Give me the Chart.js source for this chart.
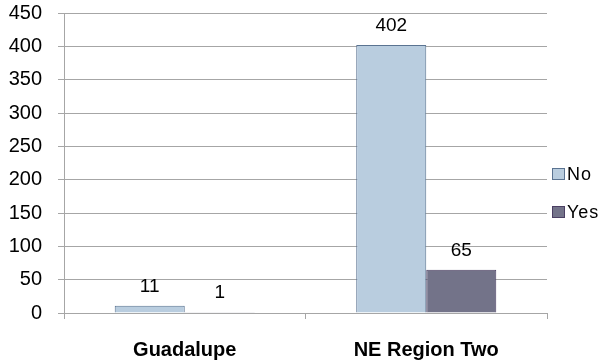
<!DOCTYPE html>
<html>
<head>
<meta charset="utf-8">
<script src="https://cdn.jsdelivr.net/npm/chart.js@4.4.0/dist/chart.umd.min.js"></script>
<style>
html,body{margin:0;padding:0;background:#fff;}
#wrap{width:604px;height:364px;position:relative;}
</style>
</head>
<body>
<div id="wrap"><canvas id="c" width="604" height="364"></canvas></div>
<script>
const categories = ["Guadalupe", "NE Region Two"];
const noValues = [11, 402];
const yesValues = [1, 65];
const seriesNames = ["No", "Yes"];
const yTicks = [0, 50, 100, 150, 200, 250, 300, 350, 400, 450];

const FONT = "'Liberation Sans', Arial, sans-serif";
const colors = {
  noFill: "#B9CDDF", noBorder: "#5A7391",
  yesFill: "#737389", yesBorder: "#4B3F63",
  grid: "#A6A6A6"
};

const valueLabels = {
  id: "valueLabels",
  afterDatasetsDraw(chart) {
    const ctx = chart.ctx;
    ctx.save();
    ctx.font = "19px " + FONT;
    ctx.fillStyle = "#000";
    ctx.textAlign = "center";
    ctx.textBaseline = "alphabetic";
    chart.data.datasets.forEach((ds, i) => {
      chart.getDatasetMeta(i).data.forEach((bar, j) => {
        ctx.fillText(String(ds.data[j]), bar.x, bar.y - 14);
      });
    });
    ctx.restore();
  }
};

const customLegend = {
  id: "customLegend",
  afterDraw(chart) {
    const ctx = chart.ctx;
    ctx.save();
    ctx.font = "18px " + FONT;
    ctx.textBaseline = "middle";
    ctx.textAlign = "left";
    ctx.letterSpacing = "1px";
    const x0 = chart.chartArea.right + 5;
    const ys = [174, 212];
    chart.data.datasets.forEach((ds, i) => {
      const y = ys[i];
      ctx.fillStyle = ds.backgroundColor;
      ctx.fillRect(x0 + 0.5, y - 5.5, 12, 11);
      ctx.strokeStyle = ds.borderColor;
      ctx.lineWidth = 1;
      ctx.strokeRect(x0 + 0.5, y - 5.5, 12, 11);
      ctx.fillStyle = "#000";
      ctx.fillText(ds.label, x0 + 15, y + 1);
    });
    ctx.restore();
  }
};

new Chart(document.getElementById("c"), {
  type: "bar",
  data: {
    labels: categories,
    datasets: [
      { label: seriesNames[0], data: noValues, backgroundColor: colors.noFill, borderColor: colors.noBorder, borderWidth: 1, borderSkipped: "bottom" },
      { label: seriesNames[1], data: yesValues, backgroundColor: colors.yesFill, borderColor: colors.yesBorder, borderWidth: 1, borderSkipped: "bottom" }
    ]
  },
  options: {
    responsive: false,
    animation: false,
    layout: { padding: { top: 13, right: 57, left: 0, bottom: 0 } },
    plugins: { legend: { display: false }, tooltip: { enabled: false } },
    datasets: { bar: { categoryPercentage: 0.58, barPercentage: 1.0 } },
    scales: {
      x: {
        grid: { display: true, drawOnChartArea: false, drawTicks: true, tickLength: 6, color: colors.grid, offset: true },
        border: { color: colors.grid },
        ticks: { font: { family: FONT, size: 20, weight: "bold" }, color: "#000", padding: 19 },
        afterFit(s) { s.height = 51; s.paddingLeft = 0; s.paddingRight = 0; }
      },
      y: {
        min: 0, max: 450,
        afterBuildTicks(s) { s.ticks = yTicks.map(v => ({ value: v })); },
        grid: { color: colors.grid, tickLength: 6 },
        border: { color: colors.grid },
        ticks: { font: { family: FONT, size: 20 }, color: "#000", padding: 16 },
        afterFit(s) { s.width = 64; s.paddingTop = 0; s.paddingBottom = 0; }
      }
    }
  },
  plugins: [valueLabels, customLegend]
});
</script>
</body>
</html>
